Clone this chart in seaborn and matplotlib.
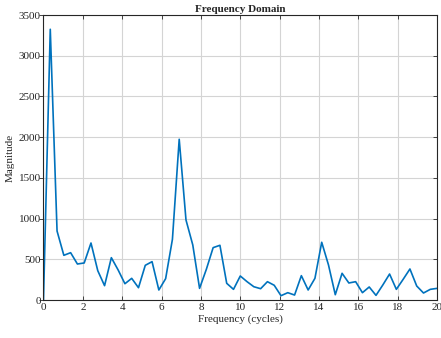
import numpy as np
import pandas as pd
import matplotlib
matplotlib.use("Agg")
import matplotlib.pyplot as plt
import seaborn as sns

# Single-sided FFT magnitude, 59 bins spanning 0-20 cycles
n_bins = 59
freq_max = 20
magnitude = [
    0, 3325, 847, 549, 581, 442, 455, 700, 360, 176,
    520, 369, 200, 266, 151, 426, 471, 123, 262, 745,
    1974, 983, 676, 143, 377, 643, 672, 205, 131, 295,
    225, 163, 139, 225, 181, 53, 90, 61, 299, 123,
    266, 709, 430, 65, 328, 209, 225, 90, 160, 57,
    184, 319, 131, 254, 381, 172, 86, 131, 143,
]
frequency = np.arange(n_bins) * freq_max / (n_bins - 1)
x_ticks = [0, 2, 4, 6, 8, 10, 12, 14, 16, 18, 20]
y_ticks = [0, 500, 1000, 1500, 2000, 2500, 3000, 3500]

df = pd.DataFrame({"Frequency": frequency, "Magnitude": magnitude})

sns.set_theme(style="whitegrid")
plt.rcParams["font.family"] = ["Liberation Serif", "DejaVu Serif"]
plt.rcParams["font.size"] = 8

fig = plt.figure(figsize=(4.41, 3.38), dpi=100)
ax = fig.add_axes([0.0986, 0.1124, 0.8925, 0.8432])

sns.lineplot(data=df, x="Frequency", y="Magnitude", ax=ax,
             color="#0072BD", linewidth=1.2)

ax.set_xlim(0, 20)
ax.set_ylim(0, 3500)
ax.set_xticks(x_ticks)
ax.set_yticks(y_ticks)
ax.grid(True, color="#D4D4D4", linewidth=0.8)
for side in ["top", "right", "bottom", "left"]:
    ax.spines[side].set_visible(True)
    ax.spines[side].set_color("#262626")
    ax.spines[side].set_linewidth(0.8)
ax.tick_params(axis="both", which="both", direction="in", length=3,
               width=0.6, color="#262626", labelsize=8, labelcolor="#262626",
               top=True, right=True, bottom=True, left=True, pad=2)
ax.tick_params(axis="y", which="both", left=True, right=True)
for tick in ax.yaxis.get_major_ticks():
    tick.tick1line.set_marker(matplotlib.lines.TICKLEFT)
ax.set_xlabel("Frequency (cycles)", fontsize=8, color="#262626", labelpad=2)
ax.set_ylabel("Magnitude", fontsize=8, color="#262626", labelpad=3)
ax.set_title("Frequency Domain", fontsize=8, fontweight="bold", pad=2)

fig.savefig("out.png", dpi=100)
